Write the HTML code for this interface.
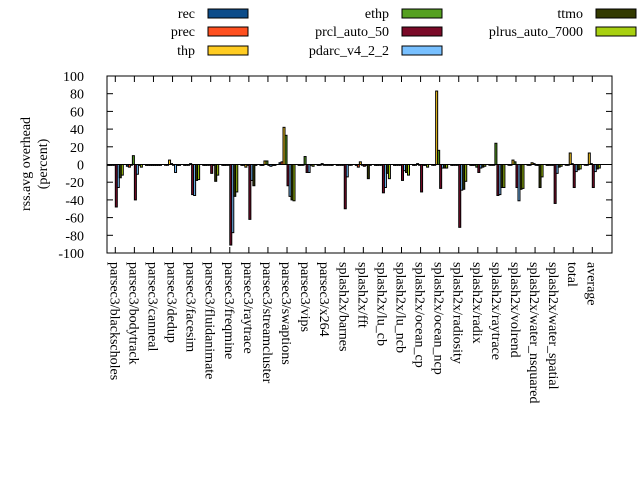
<!DOCTYPE html>
<html><head><meta charset="utf-8"><style>
html,body{margin:0;padding:0;background:#fff;}
svg{display:block;font-family:"Liberation Serif",serif;font-size:14px;}
</style></head><body>
<svg id="s" width="640" height="480" xmlns="http://www.w3.org/2000/svg">
<rect width="640" height="480" fill="#fff"/>
<g id="bars"></g>
<g id="axes"></g>
</svg>
<script>
var s=document.getElementById('s'),B=document.getElementById('bars'),A=document.getElementById('axes');
var NS="http://www.w3.org/2000/svg";
function el(p,t,a,txt){var e=document.createElementNS(NS,t);for(var k in a)e.setAttribute(k,a[k]);if(txt!=null)e.textContent=txt;p.appendChild(e);return e;}
var L=107,R=612,T=76,Bt=253,Z=164.5,SC=0.885;
var cols=["#0c4c8a","#ff5020","#ffcc22","#55a020","#7a0a28","#78c0ff","#333a00","#a8d010"];
var names=["rec","prec","thp","ethp","prcl_auto_50","pdarc_v4_2_2","ttmo","plrus_auto_7000"];
var cats=["parsec3/blackscholes","parsec3/bodytrack","parsec3/canneal","parsec3/dedup","parsec3/facesim","parsec3/fluidanimate","parsec3/freqmine","parsec3/raytrace","parsec3/streamcluster","parsec3/swaptions","parsec3/vips","parsec3/x264","splash2x/barnes","splash2x/fft","splash2x/lu_cb","splash2x/lu_ncb","splash2x/ocean_cp","splash2x/ocean_ncp","splash2x/radiosity","splash2x/radix","splash2x/raytrace","splash2x/volrend","splash2x/water_nsquared","splash2x/water_spatial","total","average"];
var D=[
[-1,-1,0,0,-48,-26,-15,-12],
[-2,-3,0,10,-40,-11,-1,-3],
[-1,-1,-1,-1,-1,-1,-1,-1],
[0,0,5,1,0,-9,-1,-1],
[-1,0,0,1,-34,-35,-18,-17],
[-1,-1,0,0,-10,-1,-19,-12],
[-1,-1,0,0,-91,-77,-36,-31],
[-1,0,-3,0,-62,-18,-24,-1],
[-1,-1,4,4,-1,-2,-1,-1],
[2,3,42,33,-24,-36,-40,-41],
[-1,0,0,9,-9,-9,0,-2],
[-1,0,1,0,0,0,0,-1],
[-1,0,0,0,-50,-14,0,0],
[-1,-3,3,0,-2,-1,-16,-1],
[-1,-1,0,0,-32,-26,-10,-16],
[-1,0,0,0,-18,-7,-9,-12],
[-1,0,1,0,-31,-1,-1,-3],
[0,0,83,16,-27,-4,-4,-4],
[-1,0,0,0,-71,-29,-28,-19],
[-1,-1,0,-3,-9,-4,-3,-2],
[0,0,0,24,-35,-34,-26,-26],
[0,0,5,3,-26,-41,-28,-27],
[0,0,2,1,0,-1,-26,-14],
[-1,0,0,0,-44,-10,-3,-2],
[0,0,13,1,-26,-8,-6,-5],
[0,0,13,1,-26,-8,-5,-4]];
var sp=19.08,x0=115.3,bw=2;
for(var i=0;i<26;i++){var cx=x0+i*sp;
 for(var j=0;j<8;j++){var v=D[i][j];var bx=cx-8+j*bw;var y1=Z-v*SC;var y=Math.min(Z,y1),h=Math.max(Math.abs(Z-y1),0.8);
  el(B,'rect',{x:bx,y:y,width:bw,height:h,fill:cols[j],stroke:"#000","stroke-width":1});}
 el(A,'line',{x1:cx,y1:Bt,x2:cx,y2:Bt-6,stroke:"#000"});
 el(A,'line',{x1:cx,y1:T,x2:cx,y2:T+6,stroke:"#000"});
 var t=el(A,'text',{x:0,y:0,transform:"translate("+(cx-5)+",262) rotate(90)","text-anchor":"start"},cats[i]);
}
el(A,'line',{x1:L,y1:Z,x2:R,y2:Z,stroke:"#000","stroke-width":1});
for(var v=-100;v<=100;v+=20){var y=Z-v*SC;
 el(A,'line',{x1:L,y1:y,x2:L+6,y2:y,stroke:"#000"});
 el(A,'line',{x1:R,y1:y,x2:R-6,y2:y,stroke:"#000"});
 el(A,'text',{x:84,y:y+5,"text-anchor":"end"},v);}
el(A,'rect',{x:L,y:T,width:R-L,height:Bt-T,fill:"none",stroke:"#000","stroke-width":1});
el(A,'text',{x:0,y:0,transform:"translate(30,164) rotate(-90)","text-anchor":"middle"},"rss.avg overhead");
el(A,'text',{x:0,y:0,transform:"translate(47,164) rotate(-90)","text-anchor":"middle"},"(percent)");
var lx=[[195,208],[389,402],[583,596]],ly=[13,31,50];
for(var j=0;j<8;j++){var c=Math.floor(j/3),r=j%3;
 el(A,'text',{x:lx[c][0],y:ly[r]+5,"text-anchor":"end"},names[j]);
 el(A,'rect',{x:lx[c][1],y:ly[r]-4,width:40,height:9,fill:cols[j],stroke:"#000","stroke-width":1});}
</script>
</body></html>
